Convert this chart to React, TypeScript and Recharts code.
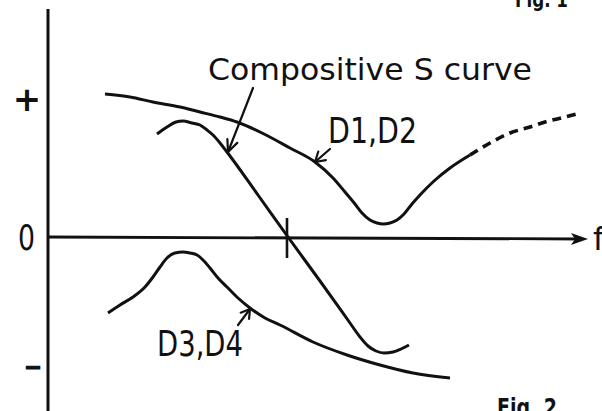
import React from 'react';
import { ComposedChart, Line, XAxis, YAxis, ReferenceLine, ReferenceDot } from 'recharts';

// Schematic curves (arbitrary units: x = frequency f, y = sign/amplitude)
const sCurve = [
  { x: 109, y: 103 }, { x: 119, y: 110 }, { x: 128, y: 115 }, { x: 135, y: 116 },
  { x: 144, y: 114 }, { x: 152, y: 112 }, { x: 159, y: 107 }, { x: 165, y: 102 },
  { x: 172, y: 94 }, { x: 179, y: 85 }, { x: 210, y: 42 }, { x: 240, y: 0 },
  { x: 272, y: -44 }, { x: 302, y: -86 }, { x: 312, y: -100 }, { x: 320, y: -109 },
  { x: 328, y: -114 }, { x: 336, y: -116 }, { x: 345, y: -115 }, { x: 353, y: -112 },
  { x: 361, y: -108 },
];

const d12Solid = [
  { x: 57, y: 143 }, { x: 82, y: 140 }, { x: 105, y: 135 }, { x: 132, y: 130 },
  { x: 152, y: 125 }, { x: 172, y: 120 }, { x: 189, y: 115 }, { x: 214, y: 104 },
  { x: 242, y: 89 }, { x: 267, y: 75 }, { x: 285, y: 59 }, { x: 297, y: 45 },
  { x: 307, y: 33 }, { x: 314, y: 24 }, { x: 322, y: 17 }, { x: 329, y: 14 },
  { x: 335, y: 13 }, { x: 342, y: 14 }, { x: 349, y: 17 }, { x: 356, y: 23 },
  { x: 364, y: 33 }, { x: 372, y: 42 }, { x: 386, y: 56 }, { x: 402, y: 69 },
  { x: 422, y: 82 },
];

const d12Dashed = [
  { x: 422, y: 82 }, { x: 442, y: 94 }, { x: 462, y: 104 }, { x: 482, y: 110 },
  { x: 497, y: 115 }, { x: 517, y: 120 }, { x: 532, y: 124 },
];

const d34 = [
  { x: 60, y: -76 }, { x: 72, y: -68 }, { x: 85, y: -60 }, { x: 97, y: -50 },
  { x: 105, y: -40 }, { x: 112, y: -30 }, { x: 119, y: -21 }, { x: 127, y: -16 },
  { x: 135, y: -15 }, { x: 142, y: -16 }, { x: 149, y: -18 }, { x: 156, y: -24 },
  { x: 162, y: -31 }, { x: 170, y: -41 }, { x: 179, y: -50 }, { x: 190, y: -61 },
  { x: 202, y: -71 }, { x: 217, y: -81 }, { x: 232, y: -88 }, { x: 265, y: -105 },
  { x: 299, y: -118 }, { x: 332, y: -128 }, { x: 365, y: -136 }, { x: 402, y: -141 },
];

const signLabels = ['+', '0', '-'];
const curveLabels = ['Compositive S curve', 'D1,D2', 'D3,D4'];
const axisLabel = 'f';
const figLabels = ['Fig. 1', 'Fig. 2'];

const INK = '#111';
const FONT = '"DejaVu Sans", "Liberation Sans", sans-serif';

const arrowShape = (headLen: number, spread: number) => (p: any) => {
  const { x1, y1, x2, y2 } = p;
  const ang = Math.atan2(y2 - y1, x2 - x1);
  const a1 = ang + Math.PI - spread;
  const a2 = ang + Math.PI + spread;
  const b1x = x2 + headLen * Math.cos(a1);
  const b1y = y2 + headLen * Math.sin(a1);
  const b2x = x2 + headLen * Math.cos(a2);
  const b2y = y2 + headLen * Math.sin(a2);
  return (
    <g>
      <line x1={x1} y1={y1} x2={x2} y2={y2} stroke={INK} strokeWidth={2.2} strokeLinecap="round" />
      <polyline points={`${b1x},${b1y} ${x2},${y2} ${b2x},${b2y}`} fill="none" stroke={INK} strokeWidth={2.2} strokeLinecap="round" strokeLinejoin="round" />
    </g>
  );
};

const axisShape = (p: any) => {
  const { x1, y1, x2, y2 } = p;
  return (
    <g>
      <line x1={x1} y1={y1} x2={x2 - 6} y2={y2} stroke={INK} strokeWidth={2.8} />
      <polygon points={`${x2 - 17},${y2 - 6} ${x2},${y2} ${x2 - 17},${y2 + 6} ${x2 - 13},${y2}`} fill={INK} />
    </g>
  );
};

const plainLine = (w: number) => (p: any) => (
  <line x1={p.x1} y1={p.y1} x2={p.x2} y2={p.y2} stroke={INK} strokeWidth={w} />
);

const textShape = (
  txt: string,
  size: number,
  opts: { len?: number; anchor?: string; weight?: string | number; stroke?: number } = {}
) => (p: any) => (
  <text
    x={p.cx}
    y={p.cy}
    fontFamily={FONT}
    fontSize={size}
    fontWeight={opts.weight ?? 'normal'}
    textAnchor={opts.anchor ?? 'start'}
    textLength={opts.len}
    lengthAdjust={opts.len ? 'spacingAndGlyphs' : undefined}
    fill={INK}
    stroke={opts.stroke ? INK : 'none'}
    strokeWidth={opts.stroke ?? 0}
  >
    {txt}
  </text>
);

const noDot = () => null;

export default function App() {
  const lineCommon = {
    dataKey: 'y',
    type: 'monotone' as const,
    stroke: INK,
    dot: false,
    activeDot: false,
    legendType: 'none' as const,
    isAnimationActive: false,
  };
  return (
    <div style={{ position: 'absolute', left: 0, top: 0, width: 602, height: 411, background: '#fff' }}>
      <ComposedChart width={602} height={411} margin={{ top: 0, right: 0, bottom: 0, left: 0 }}>
        <XAxis type="number" dataKey="x" domain={[-48, 554]} allowDataOverflow hide />
        <YAxis type="number" dataKey="y" domain={[-174, 237]} allowDataOverflow hide />

        {/* axes */}
        <ReferenceLine segment={[{ x: 0, y: 228 }, { x: 0, y: -174 }]} shape={plainLine(3)} ifOverflow="visible" />
        <ReferenceLine segment={[{ x: 0, y: 0 }, { x: 540, y: -2 }]} shape={axisShape} ifOverflow="visible" />
        <ReferenceLine segment={[{ x: 239, y: 19 }, { x: 239, y: -21 }]} shape={plainLine(2.6)} ifOverflow="visible" />

        {/* curves */}
        <Line {...lineCommon} data={d12Solid} strokeWidth={3} />
        <Line {...lineCommon} data={d12Dashed} strokeWidth={3.6} strokeDasharray="9 6" />
        <Line {...lineCommon} data={sCurve} strokeWidth={3} />
        <Line {...lineCommon} data={d34} strokeWidth={3} />

        {/* pointer arrows */}
        <ReferenceLine segment={[{ x: 205, y: 149 }, { x: 180, y: 85 }]} shape={arrowShape(13, 0.42)} ifOverflow="visible" />
        <ReferenceLine segment={[{ x: 282, y: 88 }, { x: 267, y: 75 }]} shape={arrowShape(11, 0.55)} ifOverflow="visible" />
        <ReferenceLine segment={[{ x: 190, y: -88 }, { x: 202, y: -72 }]} shape={arrowShape(10, 0.55)} ifOverflow="visible" />

        {/* texts */}
        <ReferenceDot x={160} y={157} r={0} ifOverflow="visible" shape={textShape(curveLabels[0], 31, { len: 324 })} />
        <ReferenceDot x={280} y={94} r={0} ifOverflow="visible" shape={textShape(curveLabels[1], 36, { len: 89 })} />
        <ReferenceDot x={109} y={-119} r={0} ifOverflow="visible" shape={textShape(curveLabels[2], 36, { len: 86 })} />
        <ReferenceDot x={-21} y={126} r={0} ifOverflow="visible" shape={textShape(signLabels[0], 34, { anchor: 'middle', weight: 'bold' })} />
        <ReferenceDot x={-30} y={-13} r={0} ifOverflow="visible" shape={textShape(signLabels[1], 36, { len: 17 })} />
        <ReferenceDot x={-24} y={-140} r={0} ifOverflow="visible" shape={textShape(signLabels[2], 36, { len: 18, stroke: 1 })} />
        <ReferenceDot x={545} y={-13} r={0} ifOverflow="visible" shape={textShape(axisLabel, 32)} />
        <ReferenceDot x={467} y={230} r={0} ifOverflow="visible" shape={textShape(figLabels[0], 22, { len: 53, weight: 'bold' })} />
        <ReferenceDot x={449} y={-179} r={0} ifOverflow="visible" shape={textShape(figLabels[1], 24, { len: 60, weight: 'bold' })} />
      </ComposedChart>
    </div>
  );
}
